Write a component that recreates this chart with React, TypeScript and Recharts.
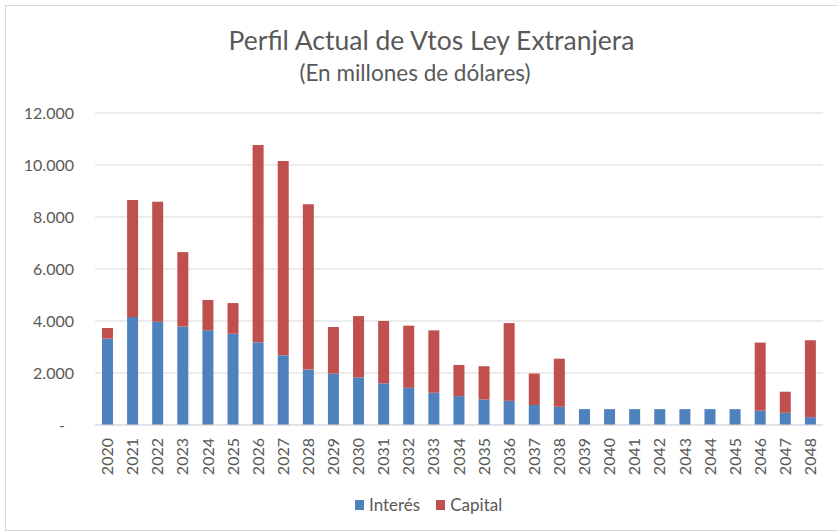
import React from 'react';
import { BarChart, Bar, XAxis, YAxis, CartesianGrid, Legend } from 'recharts';

const years = [
  '2020', '2021', '2022', '2023', '2024', '2025', '2026', '2027', '2028', '2029',
  '2030', '2031', '2032', '2033', '2034', '2035', '2036', '2037', '2038', '2039',
  '2040', '2041', '2042', '2043', '2044', '2045', '2046', '2047', '2048',
];

const interes = [
  3320, 4150, 3970, 3790, 3640, 3510, 3180, 2680, 2130, 1980,
  1830, 1600, 1430, 1240, 1110, 980, 930, 770, 700, 610,
  610, 610, 610, 610, 610, 610, 550, 470, 300,
];

const capital = [
  410, 4500, 4620, 2860, 1170, 1180, 7590, 7470, 6360, 1790,
  2360, 2400, 2390, 2400, 1200, 1280, 2990, 1210, 1850, 0,
  0, 0, 0, 0, 0, 0, 2620, 810, 2960,
];

const yTicks = [0, 2000, 4000, 6000, 8000, 10000, 12000];

const seriesOrder = ['interes', 'capital'];
const seriesNames = { interes: 'Interés', capital: 'Capital' };
const titleText = 'Perfil Actual de Vtos Ley Extranjera';
const subtitleText = '(En millones de dólares)';

const data = years.map((year, i) => ({ year, interes: interes[i], capital: capital[i] }));

const FONT = 'Lato, "Open Sans", sans-serif';
const TEXT = '#595959';
const BLUE = '#4F81BD';
const RED = '#C0504D';
const GRID = '#d9d9d9';

const fmt = (v: number) => (v === 0 ? '-' : String(v).replace(/\B(?=(\d{3})+(?!\d))/g, '.'));

const YTick = (props: any) => {
  const { x, y, payload } = props;
  const isZero = payload.value === 0;
  return (
    <text
      x={isZero ? x - 9 : x}
      y={y}
      dy="0.35em"
      textAnchor="end"
      fill={TEXT}
      fontSize={16}
      fontFamily={FONT}
    >
      {fmt(payload.value)}
    </text>
  );
};

const XTick = (props: any) => {
  const { x, y, payload } = props;
  return (
    <text
      x={x}
      y={y}
      dy="0.35em"
      transform={`rotate(-90 ${x} ${y})`}
      textAnchor="end"
      fill={TEXT}
      fontSize={16}
      fontFamily={FONT}
    >
      {payload.value}
    </text>
  );
};

const LegendContent = (props: any) => {
  const payload = [...(props.payload || [])].sort(
    (a: any, b: any) => seriesOrder.indexOf(a.dataKey) - seriesOrder.indexOf(b.dataKey)
  );
  return (
    <div style={{ display: 'flex', alignItems: 'center', fontFamily: FONT, fontSize: 17, color: TEXT, lineHeight: '20px' }}>
      {payload.map((p: any, i: number) => (
        <div key={i} style={{ display: 'flex', alignItems: 'center', marginRight: 16 }}>
          <span style={{ display: 'inline-block', width: 9, height: 10, background: p.color, marginRight: 5 }} />
          <span>{p.value}</span>
        </div>
      ))}
    </div>
  );
};

export default function App() {
  return (
    <div style={{ position: 'absolute', left: 0, top: 0, width: 838, height: 532, overflow: 'hidden', background: '#fff' }}>
      <div
        style={{
          position: 'absolute',
          left: 5,
          top: 5,
          width: 845,
          height: 526,
          border: '1px solid #d9d9d9',
          boxSizing: 'border-box',
        }}
      />
      <div
        style={{
          position: 'absolute',
          left: 0,
          top: 25,
          width: 863,
          textAlign: 'center',
          fontFamily: FONT,
          fontSize: 26.5,
          lineHeight: '30px',
          color: TEXT,
        }}
      >
        {titleText}
      </div>
      <div
        style={{
          position: 'absolute',
          left: 0,
          top: 61,
          width: 830,
          textAlign: 'center',
          fontFamily: FONT,
          fontSize: 22.5,
          lineHeight: '24px',
          color: TEXT,
        }}
      >
        {subtitleText}
      </div>
      <div style={{ position: 'absolute', left: 0, top: 0 }}>
        <BarChart
          width={838}
          height={532}
          data={data}
          margin={{ top: 113, right: 15, left: 0, bottom: 27 }}
          barSize={11}
        >
          <CartesianGrid vertical={false} stroke={GRID} strokeWidth={1} />
          <XAxis
            dataKey="year"
            interval={0}
            height={60}
            tickLine={false}
            tickMargin={7}
            axisLine={{ stroke: GRID }}
            tick={<XTick />}
          />
          <YAxis
            width={95}
            domain={[0, 12000]}
            ticks={yTicks}
            axisLine={false}
            tickLine={false}
            tickMargin={15}
            tick={<YTick />}
          />
          <Legend
            content={<LegendContent />}
            wrapperStyle={{ position: 'absolute', top: 495, left: 355, width: 300, height: 20 }}
          />
          <Bar dataKey="interes" name={seriesNames.interes} stackId="a" fill={BLUE} isAnimationActive={false} />
          <Bar dataKey="capital" name={seriesNames.capital} stackId="a" fill={RED} isAnimationActive={false} />
        </BarChart>
      </div>
    </div>
  );
}
